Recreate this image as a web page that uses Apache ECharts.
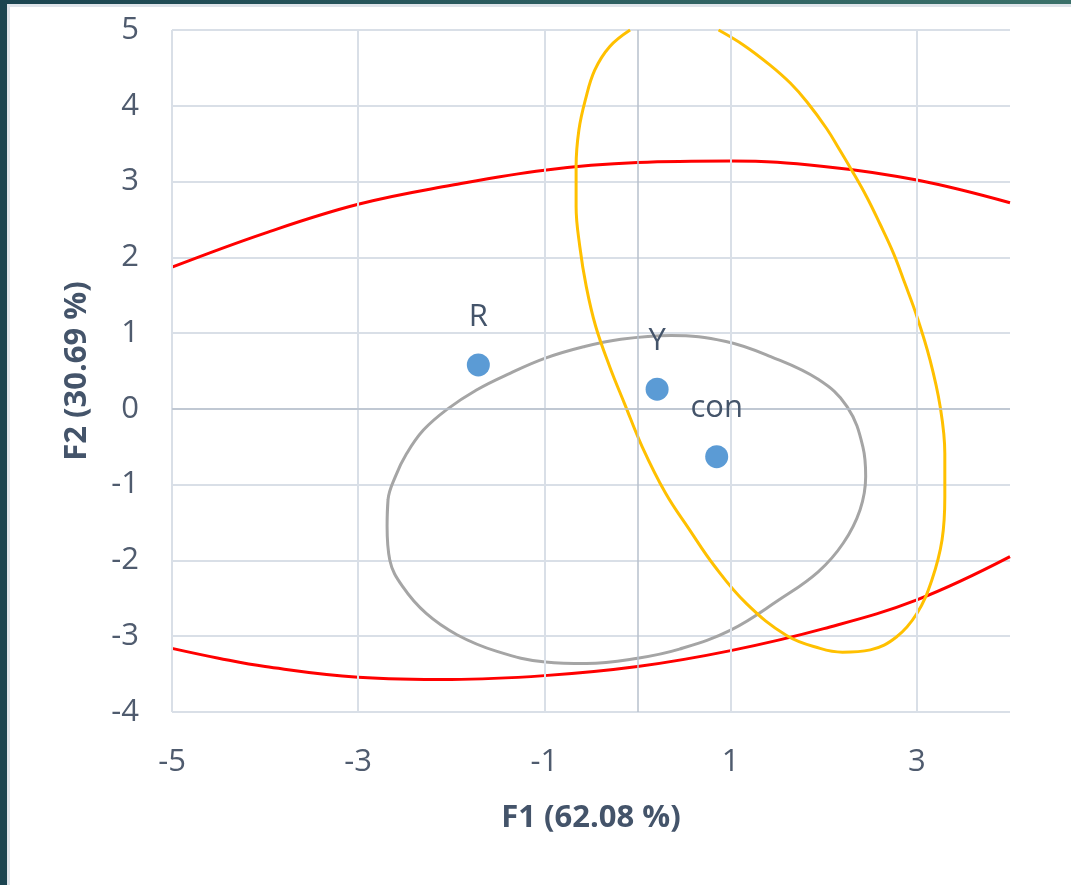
<!DOCTYPE html>
<html>
<head>
<meta charset="utf-8">
<script src="https://cdn.jsdelivr.net/npm/echarts@6/dist/echarts.min.js"></script>
<style>
  html, body { margin: 0; padding: 0; width: 1071px; height: 885px; overflow: hidden; }
  body { background: linear-gradient(90deg, #1b4450 0%, #2c5d60 50%, #3b716a 100%); position: relative; }
  #panel { position: absolute; left: 7px; top: 4px; right: 0; bottom: 0; background: #ffffff; border-left: 3px solid #dfe4ea; border-top: 3px solid #dfe4ea; }
  #chart { position: absolute; left: 0; top: 0; width: 1071px; height: 885px; }
</style>
</head>
<body>
<div id="panel"></div>
<div id="chart"></div>
<script>
// ---- data ----
const xTicks = [-5, -3, -1, 1, 3];
const pointLabels = ['R', 'Y', 'con'];
const pointX = [-1.71, 0.21, 0.85];
const pointY = [0.58, 0.26, -0.63];

const redTop = [[-5, 1.87], [-4, 2.32], [-3, 2.70], [-2, 2.95], [-1, 3.15], [0, 3.25], [1, 3.27], [2, 3.20], [3, 3.02], [4, 2.72]];
const redBottom = [[-5, -3.16], [-4.5, -3.29], [-4, -3.40], [-3, -3.54], [-2, -3.57], [-1, -3.52], [0, -3.40], [1, -3.19], [2, -2.90], [3, -2.52], [4, -1.95]];

const grayEllipse = [[-2.69, -1.55], [-2.68, -1.20], [-2.60, -0.89], [-2.48, -0.59], [-2.30, -0.28], [-2.05, -0.01], [-1.73, 0.25], [-1.37, 0.47], [-0.99, 0.67], [-0.58, 0.82], [-0.18, 0.92], [0.36, 0.97], [0.95, 0.89], [1.43, 0.69], [1.94, 0.39], [2.25, 0.03], [2.42, -0.50], [2.45, -0.89], [2.39, -1.33], [2.21, -1.77], [1.94, -2.15], [1.52, -2.52], [1.0, -2.92], [0.45, -3.17], [0, -3.29], [-0.55, -3.36], [-0.99, -3.34], [-1.51, -3.20], [-1.94, -2.98], [-2.27, -2.70], [-2.52, -2.35], [-2.66, -2.00], [-2.69, -1.55], [-2.68, -1.20]];

const orangeEllipse = [[-0.08, 5.0], [-0.30, 4.78], [-0.46, 4.47], [-0.56, 4.08], [-0.63, 3.68], [-0.66, 3.20], [-0.66, 2.67], [-0.62, 2.14], [-0.55, 1.61], [-0.45, 1.09], [-0.30, 0.56], [-0.14, 0.07], [0.05, -0.50], [0.30, -1.11], [0.55, -1.58], [0.83, -2.08], [1.17, -2.57], [1.60, -2.99], [1.96, -3.16], [2.20, -3.21], [2.50, -3.18], [2.78, -3.01], [3.00, -2.70], [3.16, -2.26], [3.27, -1.73], [3.30, -1.16], [3.30, -0.59], [3.25, 0.03], [3.14, 0.65], [3.00, 1.22], [2.87, 1.66], [2.75, 2.05], [2.60, 2.45], [2.46, 2.80], [2.30, 3.15], [2.17, 3.42], [2.03, 3.70], [1.82, 4.05], [1.64, 4.30], [1.42, 4.54], [1.14, 4.80], [0.87, 5.0]];

const xName = 'F1 (62.08 %)';
const yName = 'F2 (30.69 %)';

// ---- chart ----
const FONT = '"Open Sans", "Noto Sans", sans-serif';
const TXT = '#4f5b6e';
const GRID = '#d9dfe7';
const ZERO = '#b7c0cc';
const FS = 31;

const chart = echarts.init(document.getElementById('chart'), null, { renderer: 'canvas' });

const ellipseLine = (data, color) => ({
  type: 'line', data: data, smooth: 0.4, showSymbol: false, symbol: 'none',
  lineStyle: { color: color, width: 3 }, silent: true, clip: true, z: 3
});

const option = {
  animation: false,
  backgroundColor: 'transparent',
  grid: { left: 172, top: 30, right: 61, bottom: 173, containLabel: false },
  xAxis: {
    type: 'value', min: -5, max: 4, interval: 2,
    name: xName, nameLocation: 'middle', nameGap: 91,
    nameTextStyle: { fontFamily: FONT, fontSize: FS, fontWeight: 'bold', color: '#44546a' },
    axisLine: { show: false }, axisTick: { show: false },
    axisLabel: { fontFamily: FONT, fontSize: FS, color: TXT, margin: 35, showMaxLabel: false,
      formatter: v => (xTicks.indexOf(v) >= 0 ? String(v) : '') },
    splitLine: { show: false }
  },
  yAxis: {
    type: 'value', min: -4, max: 5, interval: 1,
    name: yName, nameLocation: 'middle', nameGap: 79,
    nameTextStyle: { fontFamily: FONT, fontSize: FS, fontWeight: 'bold', color: '#44546a' },
    axisLine: { show: false }, axisTick: { show: false },
    axisLabel: { fontFamily: FONT, fontSize: FS, color: TXT, margin: 33 },
    splitLine: { show: true, lineStyle: { color: GRID, width: 2 } }
  },
  series: [
    {
      type: 'line', data: [], silent: true, z: 1,
      markLine: {
        silent: true, symbol: 'none', animation: false,
        label: { show: false },
        data: xTicks.map(v => ({ xAxis: v, lineStyle: { color: GRID, width: 2, type: 'solid' } }))
          .concat([
            { xAxis: 0, lineStyle: { color: ZERO, width: 1.5, type: 'solid' } },
            { yAxis: 0, lineStyle: { color: ZERO, width: 1.5, type: 'solid' } }
          ])
      }
    },
    ellipseLine(redTop, '#ff0000'),
    ellipseLine(redBottom, '#ff0000'),
    ellipseLine(grayEllipse, '#a5a5a5'),
    ellipseLine(orangeEllipse, '#ffc000'),
    {
      type: 'scatter', z: 5,
      data: pointLabels.map((n, i) => ({ name: n, value: [pointX[i], pointY[i]] })),
      symbolSize: 23,
      itemStyle: { color: '#5b9bd5', opacity: 1 },
      label: { show: true, position: 'top', distance: 21, formatter: p => p.name,
        fontFamily: FONT, fontSize: FS, color: '#44546a' }
    }
  ]
};
chart.setOption(option);
</script>
</body>
</html>
